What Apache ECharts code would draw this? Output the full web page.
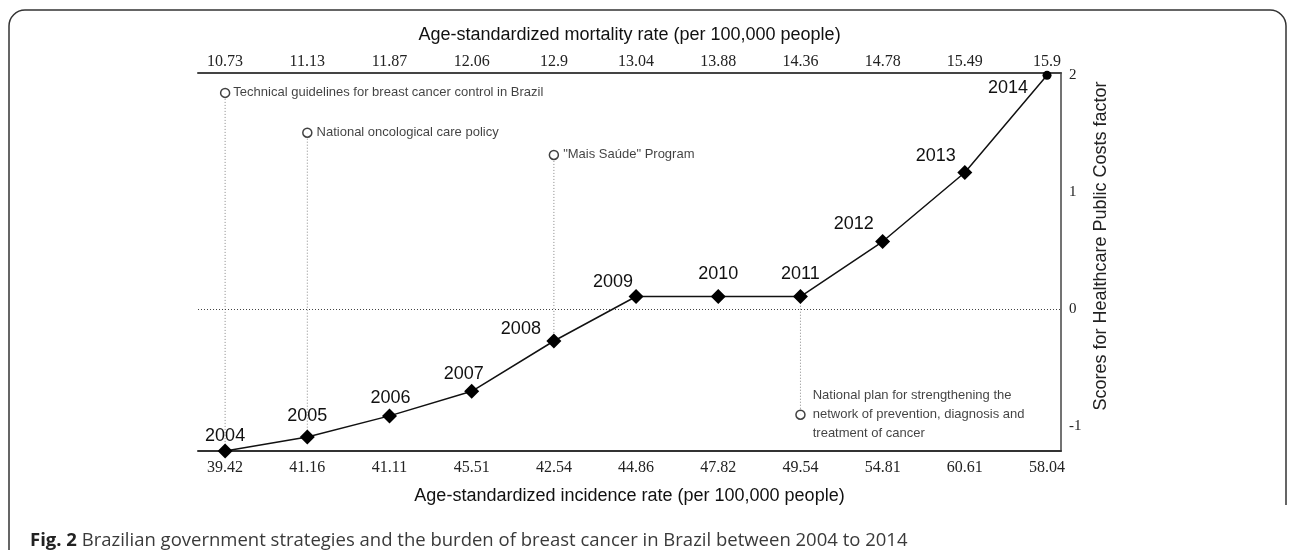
<!DOCTYPE html>
<html>
<head>
<meta charset="utf-8">
<style>
  html, body { margin: 0; padding: 0; background: #fff; }
  #chart { width: 1292px; height: 550px; }
</style>
<script src="https://cdn.jsdelivr.net/npm/echarts@6/dist/echarts.min.js"></script>
</head>
<body>
<div id="chart"></div>
<script>
// ---- Data ----
const years = [2004, 2005, 2006, 2007, 2008, 2009, 2010, 2011, 2012, 2013, 2014];
const scores = [-1.21, -1.09, -0.91, -0.70, -0.27, 0.11, 0.11, 0.11, 0.58, 1.17, 2.00];
const incidenceLabels = ['39.42', '41.16', '41.11', '45.51', '42.54', '44.86', '47.82', '49.54', '54.81', '60.61', '58.04'];
const mortalityLabels = ['10.73', '11.13', '11.87', '12.06', '12.9', '13.04', '13.88', '14.36', '14.78', '15.49', '15.9'];
const yTicks = [-1, 0, 1, 2];
const annotationYears = [2004, 2005, 2008, 2011];
const annotationLevels = [1.85, 1.51, 1.32, -0.90];
const annotationTexts = [
  'Technical guidelines for breast cancer control in Brazil',
  'National oncological care policy',
  '"Mais Saúde" Program',
  'National plan for strengthening the\nnetwork of prevention, diagnosis and\ntreatment of cancer'
];

// ---- Styling (label placement only) ----
const yearLabelOffsets = [[0, -15], [0, -21], [1, -18], [-8, -17], [-33, -12], [-23, -14], [0, -22], [0, -22], [-29, -17], [-29, -16], [-39, 13]];
const annotationLabelDistance = [3, 4, 4, 7];

const idx = years.map((_, i) => i);
const SANS = 'Liberation Sans, Arial, sans-serif';
const SERIF = 'Liberation Serif, Times New Roman, serif';

const mainData = scores.map((s, i) => ({
  value: [i, s],
  symbol: i === scores.length - 1 ? 'circle' : 'diamond',
  symbolSize: i === scores.length - 1 ? 9 : 15,
  label: {
    show: true,
    position: 'inside',
    offset: yearLabelOffsets[i],
    formatter: String(years[i]),
    fontFamily: SANS,
    fontSize: 18,
    color: '#111'
  }
}));

const series = [];

// dotted annotation leader lines
annotationYears.forEach((yr, k) => {
  const i = years.indexOf(yr);
  series.push({
    type: 'line',
    xAxisIndex: 0, yAxisIndex: 0,
    data: [[i, annotationLevels[k]], [i, scores[i]]],
    symbol: 'none',
    silent: true,
    lineStyle: { color: '#888', width: 1, type: [1, 2] },
    z: 1
  });
});

// main line
series.push({
  type: 'line',
  xAxisIndex: 0, yAxisIndex: 0,
  data: mainData,
  itemStyle: { color: '#000' },
  lineStyle: { color: '#111', width: 1.5 },
  clip: false,
  z: 5,
  markLine: {
    silent: true,
    symbol: 'none',
    label: { show: false },
    lineStyle: { color: '#444', width: 1, type: [1, 2] },
    data: [{ yAxis: 0 }]
  }
});

// annotation circles + texts
series.push({
  type: 'scatter',
  xAxisIndex: 0, yAxisIndex: 0,
  symbol: 'circle',
  symbolSize: 9,
  itemStyle: { color: '#fff', borderColor: '#111', borderWidth: 1.5 },
  z: 6,
  data: annotationYears.map((yr, k) => ({
    value: [years.indexOf(yr), annotationLevels[k]],
    label: {
      show: true,
      position: 'right',
      distance: annotationLabelDistance[k],
      formatter: annotationTexts[k],
      fontFamily: SANS,
      fontSize: 13,
      lineHeight: 19,
      color: '#111',
      align: 'left'
    }
  }))
});

const xMin = -0.33, xMax = 10.17;

const option = {
  animation: false,
  backgroundColor: '#fff',
  grid: { left: 198, right: 231, top: 73, bottom: 99, containLabel: false },
  title: {
    text: '{b|Fig. 2} Brazilian government strategies and the burden of breast cancer in Brazil between 2004 to 2014',
    left: 25,
    top: 526,
    textStyle: {
      fontFamily: 'Open Sans, Noto Sans, sans-serif',
      fontSize: 18.5,
      fontWeight: 'normal',
      color: '#3a3a3a',
      rich: {
        b: { fontFamily: 'Open Sans, Noto Sans, sans-serif', fontSize: 18.5, fontWeight: 'bold', color: '#222' }
      }
    }
  },
  graphic: [{
    type: 'rect',
    silent: true,
    z: 0,
    shape: { x: 9, y: 10, width: 1277, height: 600, r: 16 },
    style: { fill: 'none', stroke: '#333', lineWidth: 1.5 }
  }, {
    type: 'rect',
    silent: true,
    z: 1,
    shape: { x: 1280, y: 505, width: 12, height: 45 },
    style: { fill: '#fff', stroke: 'none' }
  }],
  xAxis: [{
    type: 'value',
    position: 'bottom',
    min: xMin, max: xMax,
    name: 'Age-standardized incidence rate (per 100,000 people)',
    nameLocation: 'middle',
    nameGap: 36,
    nameTextStyle: { fontFamily: SANS, fontSize: 18, color: '#111' },
    axisLine: { show: true, onZero: false, lineStyle: { color: '#333', width: 2 } },
    axisTick: { show: false },
    splitLine: { show: false },
    axisLabel: {
      customValues: idx,
      formatter: v => incidenceLabels[Math.round(v)],
      fontFamily: SERIF, fontSize: 16, color: '#222', margin: 9
    }
  }, {
    type: 'value',
    position: 'top',
    min: xMin, max: xMax,
    name: 'Age-standardized mortality rate (per 100,000 people)',
    nameLocation: 'middle',
    nameGap: 29,
    nameTextStyle: { fontFamily: SANS, fontSize: 18, color: '#111' },
    axisLine: { show: true, onZero: false, lineStyle: { color: '#444', width: 2 } },
    axisTick: { show: false },
    splitLine: { show: false },
    axisLabel: {
      customValues: idx,
      formatter: v => mortalityLabels[Math.round(v)],
      fontFamily: SERIF, fontSize: 16, color: '#222', margin: 3
    }
  }],
  yAxis: [{
    type: 'value',
    position: 'right',
    min: -1.21, max: 2.02,
    name: 'Scores for Healthcare Public Costs factor',
    nameLocation: 'middle',
    nameRotate: 90,
    nameGap: 29,
    nameTextStyle: { fontFamily: SANS, fontSize: 18, color: '#222', padding: [0, 0, 0, 32] },
    axisLine: { show: true, onZero: false, lineStyle: { color: '#444', width: 1.5 } },
    axisTick: { show: false },
    splitLine: { show: false },
    axisLabel: {
      customValues: yTicks,
      formatter: v => String(v),
      fontFamily: SERIF, fontSize: 15, color: '#222', margin: 8
    }
  }],
  series: series
};

const chart = echarts.init(document.getElementById('chart'), null, { renderer: 'canvas' });
chart.setOption(option);
</script>
</body>
</html>
